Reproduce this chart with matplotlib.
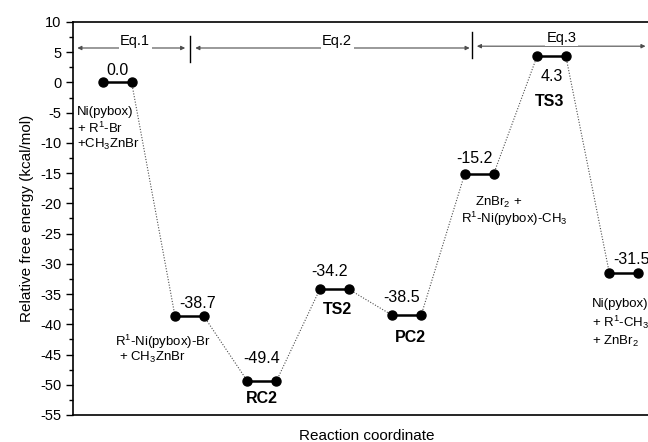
import numpy as np
import matplotlib.pyplot as plt
from matplotlib.ticker import MultipleLocator

plt.rcParams['font.family'] = 'Liberation Sans'
plt.rcParams['mathtext.fontset'] = 'custom'
plt.rcParams['mathtext.rm'] = 'Liberation Sans'
plt.rcParams['mathtext.it'] = 'Liberation Sans:italic'
plt.rcParams['mathtext.bf'] = 'Liberation Sans:bold'
plt.rcParams['axes.unicode_minus'] = False

# --- Data ---
steps = [1, 2, 3, 4, 5, 6, 7, 8]
energies = [0.0, -38.7, -49.4, -34.2, -38.5, -15.2, 4.3, -31.5]
value_labels = ["0.0", "-38.7", "-49.4", "-34.2", "-38.5", "-15.2", "4.3", "-31.5"]
state_names = ["", "", "RC2", "TS2", "PC2", "", "TS3", ""]
eq_names = ["Eq.1", "Eq.2", "Eq.3"]

# label placement (dx, dy in data units relative to the level)
value_offsets = [(0, 2.0), (0.11, 2.15), (0, 3.8), (-0.07, 3.0),
                 (-0.07, 3.0), (-0.07, 2.65), (0, -3.3), (0.1, 2.15)]
name_pos = {"RC2": (3.0, -52.2), "TS2": (4.05, -37.6),
            "PC2": (5.05, -42.2), "TS3": (6.98, -3.2)}

half = 0.2
fig = plt.figure(figsize=(6.48, 4.42), dpi=100)
ax = fig.add_axes([73 / 648, 27 / 442, 587 / 648, 393 / 442])

# dotted connectors
for i in range(len(steps) - 1):
    ax.plot([steps[i] + half, steps[i + 1] - half], [energies[i], energies[i + 1]],
            ls=(0, (1, 1.5)), color="0.3", lw=0.8, zorder=1)

# levels
for x, e, lab, (dx, dy) in zip(steps, energies, value_labels, value_offsets):
    ax.plot([x - half, x + half], [e, e], "-o", color="k", lw=1.8, ms=6.5, zorder=3)
    ax.text(x + dx, e + dy, lab, ha="center", va="center", fontsize=11.5)

for n in state_names:
    if n:
        px, py = name_pos[n]
        ax.text(px, py, n, ha="center", va="center", fontsize=11.5, fontweight="bold")

# species descriptions
species = [
    (0.448, -5.38, "Ni(pybox)"),
    (0.448, -8.36, "+ R$^1$-Br"),
    (0.448, -10.84, "+CH$_3$ZnBr"),
    (0.97, -43.6, "R$^1$-Ni(pybox)-Br"),
    (1.03, -46.0, "+ CH$_3$ZnBr"),
    (5.94, -20.4, "ZnBr$_2$ +"),
    (5.75, -23.3, "R$^1$-Ni(pybox)-CH$_3$"),
    (7.56, -37.1, "Ni(pybox)"),
    (7.56, -40.4, "+ R$^1$-CH$_3$"),
    (7.56, -43.4, "+ ZnBr$_2$"),
]
for sx, sy, s in species:
    ax.text(sx, sy, s, ha="left", va="baseline", fontsize=9.5)

# equation ranges
arrow_kw = dict(arrowstyle="<|-|>", lw=0.8, color="0.3", shrinkA=0, shrinkB=0,
                mutation_scale=6)
ranges = [(0.45, 1.94, 5.7), (2.08, 5.87, 5.7), (5.97, 8.30, 6.0)]
for a, b, y in ranges:
    ax.annotate("", xy=(b, y), xytext=(a, y), arrowprops=arrow_kw, zorder=2)
ax.plot([2.01, 2.01], [7.7, 3.4], color="k", lw=1.0)
ax.plot([5.90, 5.90], [8.35, 4.05], color="k", lw=1.0)
for (ex, ey), name in zip([(1.25, 6.2), (4.04, 6.2), (7.14, 6.7)], eq_names):
    ax.text(ex, ey, name, ha="center", va="baseline", fontsize=10.5, zorder=4,
            bbox=dict(facecolor="white", edgecolor="none", pad=1.0))

ax.set_xlim(0.39, 8.5)
ax.set_ylim(-55, 10)
ax.yaxis.set_major_locator(MultipleLocator(5))
ax.yaxis.set_minor_locator(MultipleLocator(2.5))
ax.set_xticks([])
ax.tick_params(axis="y", which="major", direction="out", length=5, width=1, labelsize=10.5)
ax.tick_params(axis="y", which="minor", direction="out", length=3, width=1)
for sp in ax.spines.values():
    sp.set_linewidth(1.2)
ax.set_ylabel("Relative free energy (kcal/mol)", fontsize=11)
ax.set_xlabel("Reaction coordinate", fontsize=11, labelpad=10)

fig.savefig("out.png", dpi=100)
